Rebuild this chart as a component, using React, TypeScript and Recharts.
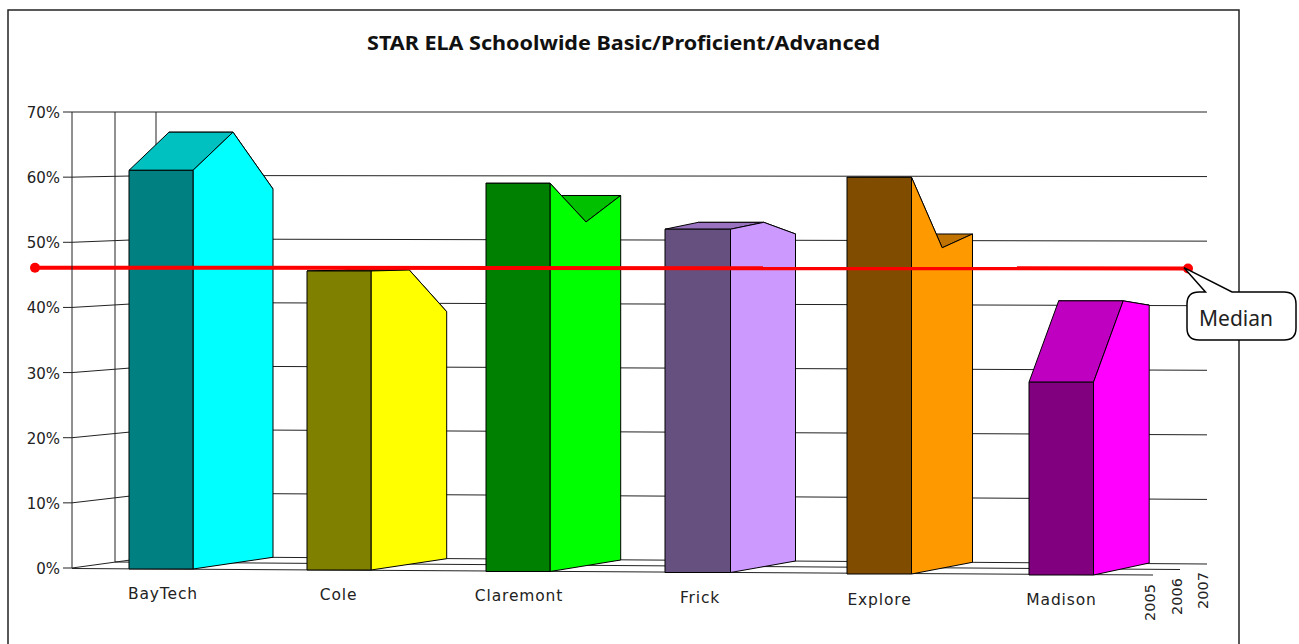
import React from 'react';
import { ComposedChart, Bar, XAxis, YAxis, CartesianGrid, ReferenceLine, Customized } from 'recharts';

const schools = ['BayTech', 'Cole', 'Claremont', 'Frick', 'Explore', 'Madison'];
const values2005 = [61.2, 45.9, 59.6, 52.7, 60.9, 29.6];
const values2006 = [67, 45.8, 53.5, 53.6, 49.8, 41.7];
const values2007 = [58, 38.9, 57.4, 51.5, 51.7, 40.6];
const years = ['2005', '2006', '2007'];
const yTicks = [0, 10, 20, 30, 40, 50, 60, 70];
const MEDIAN = 46.1;
const TITLE = 'STAR ELA Schoolwide Basic/Proficient/Advanced';

const table = schools.map((name, i) => ({
  name,
  v2005: values2005[i],
  v2006: values2006[i],
  v2007: values2007[i],
}));

// colours per school: front, side, top
const faceColors = [
  ['#008080', '#00ffff', '#00c0c0'],
  ['#808000', '#ffff00', '#c0c000'],
  ['#008000', '#00ff00', '#00c000'],
  ['#665080', '#cc99ff', '#9973bf'],
  ['#804d00', '#ff9900', '#c07300'],
  ['#800080', '#ff00ff', '#c000c0'],
];

// fake perspective of the old 3D chart
const frontDx = [-1, -3, -4, -5, -3, -1];
const frontW = [64, 64, 64, 65.5, 64.5, 64.5];
const midDx = [40, 38.3, 36, 33.3, 30.7, 29.7];
const backDx = [80, 75.7, 70.7, 65, 61, 55.7];
const frontFloor = [1, 2, 3.5, 4.5, 6, 7];
const midFloor = [-5, -3.5, -2, -1, 0, 1];
const backFloor = [-10.7, -9.3, -8, -7, -5.7, -5];
const midShrink = 6.43 / 6.514;
const backShrink = 6.35 / 6.514;

const labelDx = [1, -3.5, -3, -2, -2.5, -0.5];
const labelDy = [0, 1.7, 2.7, 4.7, 6, 6.7];

const FONT = '"DejaVu Sans", sans-serif';
const LINE = '#222';

const pts = (list: number[][]) => list.map((p) => p.join(',')).join(' ');

function Prism(props: any) {
  const { x, y, height, index, payload } = props;
  const k = height / payload.v2005;
  const bottom = y + height;
  const left = x + (frontDx[index] ?? 0);
  const right = left + frontW[index];
  const w = right - left;
  const midX = right + midDx[index];
  const backX = right + backDx[index];
  const y0 = bottom + frontFloor[index];
  const top0 = y0 - height;
  const y1 = bottom + midFloor[index];
  const top1 = y1 - payload.v2006 * k * midShrink;
  const y2 = bottom + backFloor[index];
  const top2 = y2 - payload.v2007 * k * backShrink;
  const [front, side, top] = faceColors[index];
  return (
    <g stroke="#000" strokeWidth={1} strokeLinejoin="round">
      <polygon
        fill={top}
        points={pts([[midX - w, top1], [midX, top1], [backX, top2], [backX - w, top2]])}
      />
      <polygon
        fill={top}
        points={pts([[left, top0], [right, top0], [midX, top1], [midX - w, top1]])}
      />
      <polygon
        fill={side}
        points={pts([[right, top0], [midX, top1], [backX, top2], [backX, y2], [right, y0]])}
      />
      <polygon fill={front} points={pts([[left, top0], [right, top0], [right, y0], [left, y0]])} />
    </g>
  );
}

function SchoolTick(props: any) {
  const { x, y, payload, index } = props;
  return (
    <text
      x={x + labelDx[index]}
      y={y + 22.7 + labelDy[index]}
      textAnchor="middle"
      fontFamily={FONT}
      fontSize={15.5}
      letterSpacing={0.85}
      fill="#222"
    >
      {payload.value}
    </text>
  );
}

function PercentTick(props: any) {
  const { x, y, payload } = props;
  return (
    <text x={x} y={y + 6} textAnchor="end" fontFamily={FONT} fontSize={15} fill="#222">
      {payload.value}%
    </text>
  );
}

// wall line: front edge, along the side wall, then along the back wall
function WallLine(props: any) {
  const { x1, y1, key } = props;
  const t = (568 - y1) / 456;
  const yBack = 556.5 - t * (556.5 - 112);
  const yEnd = 564 - t * (564 - 112);
  return (
    <polyline
      key={key}
      fill="none"
      stroke={LINE}
      strokeWidth={1}
      points={pts([[x1, y1], [156, yBack], [1207, yEnd]])}
    />
  );
}

function Frame() {
  return (
    <g>
      <rect x={8} y={10} width={1231} height={650} fill="none" stroke="#222" strokeWidth={1.5} />
      <text
        x={623.5}
        y={49.5}
        textAnchor="middle"
        fontFamily='"Noto Sans", sans-serif'
        fontWeight="bold"
        fontSize={19}
        textLength={513}
        lengthAdjust="spacingAndGlyphs"
        fill="#111"
      >
        {TITLE}
      </text>
      <g stroke={LINE} strokeWidth={1} fill="none">
        <line x1={115} y1={112} x2={115} y2={562} />
        <line x1={156} y1={112} x2={156} y2={557} />
        <line x1={72} y1={568.5} x2={1153} y2={575} />
        <line x1={115} y1={562} x2={1180} y2={569.5} />
      </g>
      {years.map((year, i) => (
        <text
          key={year}
          transform={`translate(${1155 + i * 26.5} ${621 - i * 6}) rotate(-90)`}
          fontFamily={FONT}
          fontSize={14.5}
          fill="#222"
        >
          {year}
        </text>
      ))}
    </g>
  );
}

function MedianMark(props: any) {
  const { y1 } = props;
  const y = y1 ?? props.viewBox?.y ?? 267.5;
  return (
    <g>
      <line x1={35} y1={y} x2={1188} y2={y + 0.8} stroke="#ff0000" strokeWidth={4} />
      <circle cx={35} cy={y} r={5} fill="#ff0000" />
      <circle cx={1188} cy={y + 0.8} r={5} fill="#ff0000" />
      <path
        d={`M1205.5,292 L1184,${y} L1232,292 H1284 Q1296,292 1296,304 V328 Q1296,340 1284,340 H1199 Q1187,340 1187,328 V304 Q1187,292 1199,292 Z`}
        fill="#fff"
        stroke="#000"
        strokeWidth={1.5}
      />
      <text x={1236} y={326} textAnchor="middle" fontFamily='"Noto Sans", sans-serif' fontSize={21} fill="#222">
        Median
      </text>
    </g>
  );
}

export default function App() {
  return (
    <div style={{ position: 'absolute', left: 0, top: 0, width: 1299, height: 644, background: '#fff', overflow: 'hidden' }}>
      <ComposedChart
        width={1299}
        height={644}
        data={table}
        margin={{ top: 112, right: 147, bottom: 0, left: 0 }}
        barCategoryGap={0}
      >
        <Customized component={Frame} />
        <CartesianGrid vertical={false} horizontal={WallLine} />
        <XAxis dataKey="name" axisLine={false} tickLine={false} height={76} interval={0} tick={SchoolTick} />
        <YAxis
          width={72}
          domain={[0, 70]}
          ticks={yTicks}
          tickSize={9}
          tickMargin={3}
          stroke={LINE}
          tick={PercentTick}
        />
        <Bar dataKey="v2005" barSize={64} isAnimationActive={false} shape={Prism} />
        <ReferenceLine y={MEDIAN} ifOverflow="visible" shape={MedianMark} />
      </ComposedChart>
    </div>
  );
}
